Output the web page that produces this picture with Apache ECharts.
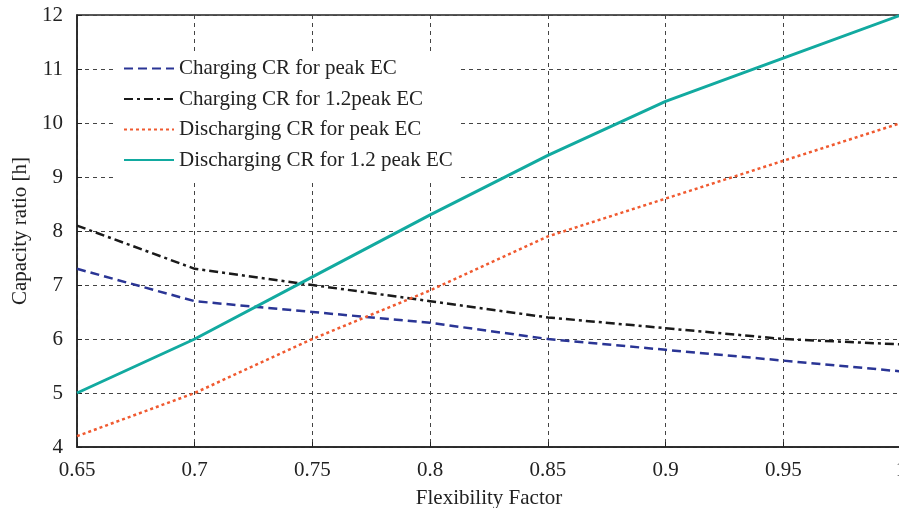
<!DOCTYPE html>
<html>
<head>
<meta charset="utf-8">
<script src="https://cdn.jsdelivr.net/npm/echarts@6/dist/echarts.min.js"></script>
<style>html,body{margin:0;padding:0;background:#fff;}#c{width:899px;height:508px;}</style>
</head>
<body>
<div id="c"></div>
<script>
const xValues = [0.65, 0.7, 0.75, 0.8, 0.85, 0.9, 0.95, 1.0];
const chargingPeak = [7.3, 6.7, 6.5, 6.3, 6.0, 5.8, 5.6, 5.4];
const charging12Peak = [8.1, 7.3, 7.0, 6.7, 6.4, 6.2, 6.0, 5.9];
const dischargingPeak = [4.2, 5.0, 6.0, 6.9, 7.9, 8.6, 9.3, 10.0];
const discharging12Peak = [5.0, 6.0, 7.15, 8.3, 9.4, 10.4, 11.2, 12.0];
const seriesNames = ['Charging CR for peak EC', 'Charging CR for 1.2peak EC', 'Discharging CR for peak EC', 'Discharging CR for 1.2 peak EC'];

const font = 'Liberation Serif, Times New Roman, serif';
const pair = arr => xValues.map((x, i) => [x, arr[i]]);

const chart = echarts.init(document.getElementById('c'), null, {renderer: 'canvas'});
chart.setOption({
  backgroundColor: '#fff',
  animation: false,
  grid: {left: 77, right: -2, top: 15, bottom: 61, outerBoundsMode: 'none', containLabel: false,
         show: true, borderColor: '#222', borderWidth: 1.5, backgroundColor: 'transparent'},
  legend: {
    orient: 'vertical', left: 115, top: 55,
    padding: [3, 8, 10, 8],
    backgroundColor: '#fff',
    itemWidth: 50, itemHeight: 14, itemGap: 9.5,
    itemStyle: {opacity: 0},
    textStyle: {fontFamily: font, fontSize: 21, color: '#222'},
    data: seriesNames
  },
  xAxis: {
    type: 'value', min: 0.65, max: 1.0, interval: 0.05,
    name: 'Flexibility Factor', nameLocation: 'middle', nameGap: 41,
    nameTextStyle: {fontFamily: font, fontSize: 21, color: '#222'},
    axisLine: {lineStyle: {color: '#222', width: 1.5}},
    axisTick: {inside: true, length: 5, lineStyle: {color: '#222'}},
    axisLabel: {fontFamily: font, fontSize: 21, color: '#222', margin: 13,
      formatter: v => String(Math.round(v * 100) / 100)},
    splitLine: {show: true, lineStyle: {color: '#444', type: [4, 4], width: 1}}
  },
  yAxis: {
    type: 'value', min: 4, max: 12, interval: 1,
    name: 'Capacity ratio [h]', nameLocation: 'middle', nameGap: 46, nameMoveOverlap: false,
    nameTextStyle: {fontFamily: font, fontSize: 21, color: '#222'},
    axisLine: {show: true, lineStyle: {color: '#222', width: 1.5}},
    axisTick: {show: true, inside: true, length: 5, lineStyle: {color: '#222'}},
    axisLabel: {fontFamily: font, fontSize: 21, color: '#222', margin: 14},
    splitLine: {show: true, lineStyle: {color: '#444', type: [4, 4], width: 1}}
  },
  series: [
    {name: seriesNames[0], type: 'line', data: pair(chargingPeak), symbol: 'none',
     color: '#2a3595', lineStyle: {color: '#2a3595', width: 2.5, type: [9, 5]}},
    {name: seriesNames[1], type: 'line', data: pair(charging12Peak), symbol: 'none',
     color: '#1a1a1a', lineStyle: {color: '#1a1a1a', width: 2.5, type: [9, 4, 3, 4]}},
    {name: seriesNames[2], type: 'line', data: pair(dischargingPeak), symbol: 'none',
     color: '#f05a30', lineStyle: {color: '#f05a30', width: 2.5, type: [3, 3]}},
    {name: seriesNames[3], type: 'line', data: pair(discharging12Peak), symbol: 'none',
     color: '#12aaa0', lineStyle: {color: '#12aaa0', width: 3, type: 'solid'}}
  ]
});
</script>
</body>
</html>
